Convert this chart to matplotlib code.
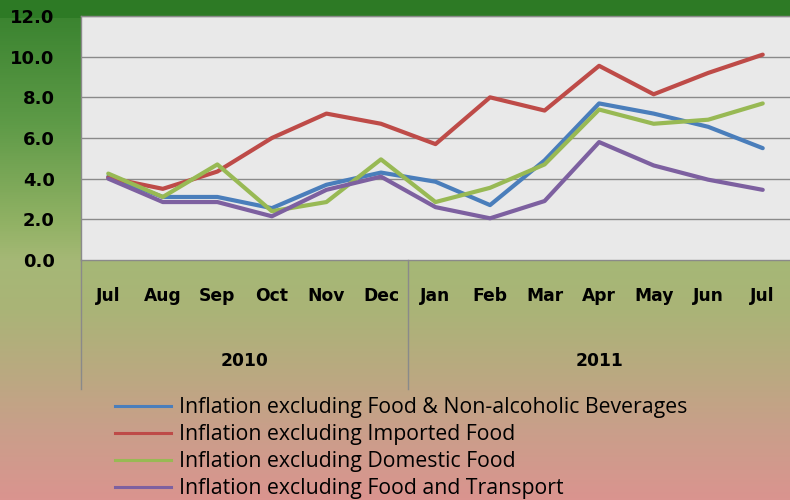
import matplotlib
matplotlib.use("Agg")
import matplotlib.pyplot as plt
import numpy as np
from matplotlib.colors import LinearSegmentedColormap
from matplotlib.lines import Line2D
from matplotlib.transforms import blended_transform_factory

months = ["Jul", "Aug", "Sep", "Oct", "Nov", "Dec", "Jan", "Feb", "Mar", "Apr", "May", "Jun", "Jul"]
years = ["2010", "2011"]
year_counts = [6, 7]

food_nonalc = [4.1, 3.1, 3.1, 2.55, 3.7, 4.3, 3.85, 2.7, 4.9, 7.7, 7.2, 6.55, 5.5]
imported_food = [4.05, 3.5, 4.35, 6.0, 7.2, 6.7, 5.7, 8.0, 7.35, 9.55, 8.15, 9.2, 10.1]
domestic_food = [4.25, 3.1, 4.7, 2.4, 2.85, 4.95, 2.85, 3.55, 4.7, 7.4, 6.7, 6.9, 7.7]
food_transport = [4.0, 2.85, 2.85, 2.15, 3.45, 4.1, 2.6, 2.05, 2.9, 5.8, 4.65, 3.95, 3.45]

labels = ["Inflation excluding Food & Non-alcoholic Beverages",
          "Inflation excluding Imported Food",
          "Inflation excluding Domestic Food",
          "Inflation excluding Food and Transport"]
series = [food_nonalc, imported_food, domestic_food, food_transport]
colors = ["#4a7ebb", "#be4b48", "#98b954", "#7d60a0"]

yticks = [0, 2, 4, 6, 8, 10, 12]

W, H = 790, 500
fig = plt.figure(figsize=(W / 100, H / 100), dpi=100)

# background gradient
bg = fig.add_axes([0, 0, 1, 1], zorder=-10)
cmap = LinearSegmentedColormap.from_list("bg", [
    (0.0, "#2d7a25"), (0.032, "#2d7a25"), (0.033, "#3b8430"),
    (0.25, "#5f9b48"), (0.45, "#92b265"), (0.52, "#a5b876"),
    (0.62, "#aab477"), (0.74, "#b9aa80"), (0.86, "#c99f8a"), (1.0, "#da948f")])
grad = np.linspace(0, 1, 500).reshape(-1, 1)
bg.imshow(grad, aspect="auto", cmap=cmap, extent=[0, 1, 0, 1], origin="upper")
bg.axis("off")

x0, x1 = 81 / W, 790 / W
y_top, y_bot = 16 / H, 260 / H
ax = fig.add_axes([x0, 1 - y_bot, x1 - x0, y_bot - y_top])
ax.set_facecolor("#e9e9e9")
x = np.arange(len(months))
ax.set_xlim(-0.5, len(months) - 0.5)
ax.set_ylim(0, 12)
ax.set_yticks(yticks)
ax.set_yticklabels([f"{v:.1f}" for v in yticks], fontsize=13, fontweight="bold",
                   family=["DejaVu Sans"])
ax.tick_params(axis="y", length=0, pad=19)
ax.set_xticks([])
for v in yticks[1:]:
    ax.axhline(v, color="#8a8a8a", lw=1.0, zorder=1)
for s in ["top", "bottom", "left"]:
    ax.spines[s].set_color("#8a8a8a")
    ax.spines[s].set_linewidth(1.0)
ax.spines["right"].set_visible(False)

for vals, c, lab in zip(series, colors, labels):
    ax.plot(x, vals, color=c, lw=3.0, solid_capstyle="round", solid_joinstyle="round",
            label=lab, zorder=3)

# category axis below
tr = blended_transform_factory(ax.transData, ax.transAxes)
axh = 260 - 16
line_bottom = -(389 - 260) / axh
for i, m in enumerate(months):
    ax.text(i, -(296 - 260) / axh, m, transform=tr, ha="center", va="center",
            fontsize=12.3, fontweight="bold", family=["DejaVu Sans"], clip_on=False)
start = 0
bounds = [-0.5]
for yr, n in zip(years, year_counts):
    center = start + (n - 1) / 2
    ax.text(center, -(361 - 260) / axh, yr, transform=tr, ha="center", va="center",
            fontsize=12.3, fontweight="bold", family=["DejaVu Sans"], clip_on=False)
    start += n
    bounds.append(start - 0.5)
for b in bounds[:-1]:
    ax.add_line(Line2D([b, b], [0, line_bottom], transform=tr, color="#8a8a8a",
                       lw=1.0, clip_on=False))

handles = [Line2D([0], [0], color=c, lw=2.2) for c in colors]
fig.legend(handles, labels, loc="upper left", bbox_to_anchor=(106 / W, 1 - 389 / H),
           frameon=False, handlelength=2.65, handletextpad=0.37,
           labelspacing=0.28, borderaxespad=0,
           prop={"family": ["Open Sans", "DejaVu Sans"], "size": 15.3})

fig.savefig("out.png", dpi=100)
